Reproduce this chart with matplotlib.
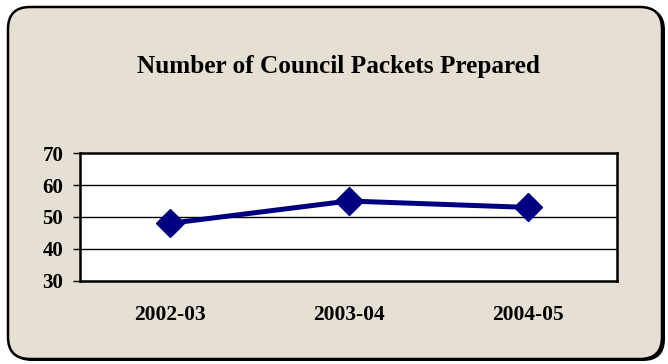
import matplotlib
matplotlib.use("Agg")
import matplotlib.pyplot as plt
from matplotlib.patches import FancyBboxPatch
from matplotlib.transforms import IdentityTransform

years = ["2002-03", "2003-04", "2004-05"]
packets = [48, 55, 53]
y_ticks = [30, 40, 50, 60, 70]

plt.rcParams['font.family'] = ['Liberation Serif', 'DejaVu Serif']
plt.rcParams['font.weight'] = 'bold'

fig = plt.figure(figsize=(6.68, 3.64), dpi=100)
fig.patch.set_facecolor('white')

# rounded beige panel (pixel coords, origin bottom-left)
shadow = FancyBboxPatch((10, 3), 655, 353, boxstyle="round,pad=0,rounding_size=22",
                        transform=IdentityTransform(), facecolor='black', edgecolor='none', zorder=0)
panel = FancyBboxPatch((8, 5), 654, 352, boxstyle="round,pad=0,rounding_size=22",
                       transform=IdentityTransform(), facecolor='#e6e0d4', edgecolor='black',
                       linewidth=1.8, zorder=1)
fig.patches.extend([shadow, panel])

ax = fig.add_axes([80/668, 1-281/364, 537/668, 128/364])
ax.set_zorder(2)
ax.set_facecolor('white')
x = list(range(len(years)))
ax.plot(x, packets, color='#000080', linewidth=3.6, marker='D', markersize=14,
        markeredgecolor='#000080', zorder=3)

ax.set_xlim(-0.5, 2.5)
ax.set_ylim(30, 70)
ax.set_yticks(y_ticks)
ax.set_yticklabels([str(v) for v in y_ticks], fontsize=15, fontweight='bold')
ax.set_xticks(x)
ax.set_xticklabels(years, fontsize=15.5, fontweight='bold')
ax.tick_params(axis='x', length=0, pad=17)
ax.tick_params(axis='y', length=5, width=1, pad=7, direction='out')
for v in [40, 50, 60]:
    ax.axhline(v, color='black', linewidth=1, zorder=1)
for s in ax.spines.values():
    s.set_linewidth(1.8)

fig.text(338/668, 1-66/364, "Number of Council Packets Prepared", ha='center', va='center',
         fontsize=18.2, fontweight='bold')

fig.savefig("out.png", dpi=100)
